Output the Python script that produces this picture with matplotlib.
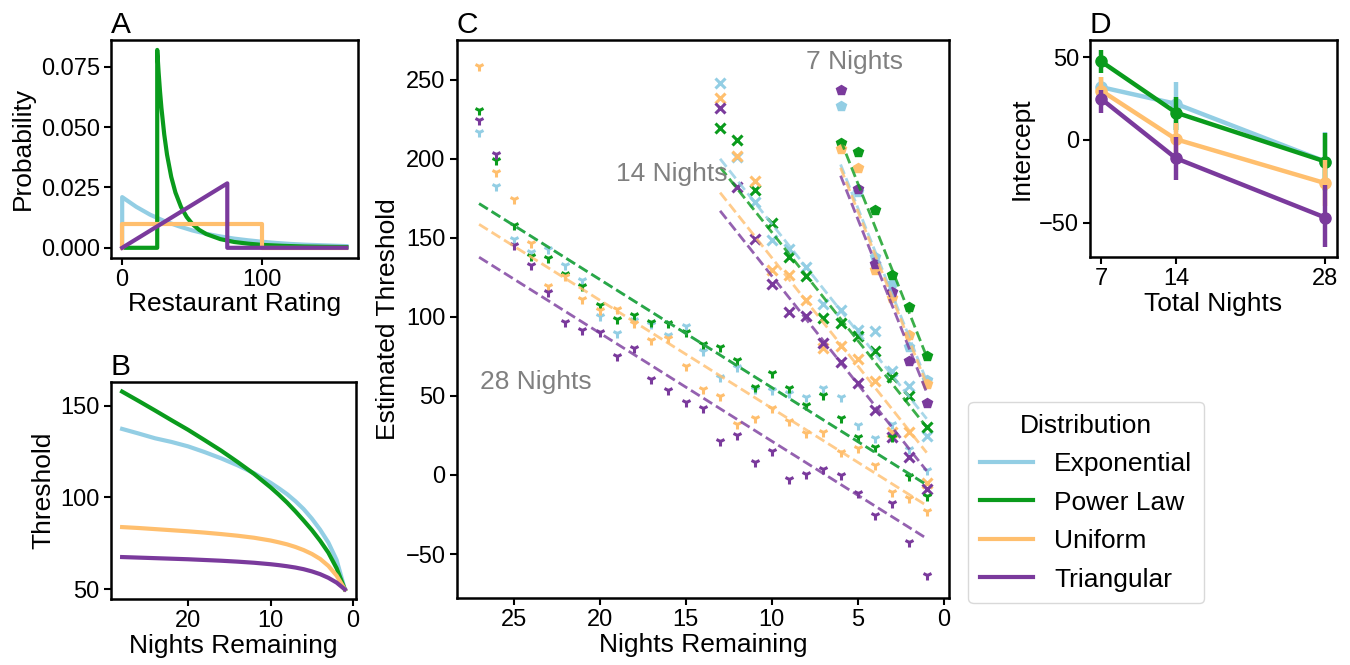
import numpy as np
import matplotlib
matplotlib.use("Agg")
import matplotlib.pyplot as plt
from matplotlib.lines import Line2D

plt.rcParams['font.family'] = ['Liberation Sans', 'DejaVu Sans']
plt.rcParams['axes.linewidth'] = 1.8
plt.rcParams['xtick.major.width'] = 1.5
plt.rcParams['ytick.major.width'] = 1.5
plt.rcParams['xtick.major.size'] = 5
plt.rcParams['ytick.major.size'] = 5

dists = ['Exponential', 'Power Law', 'Uniform', 'Triangular']
colors = ['#93cee4', '#0a9b1c', '#ffbf6e', '#7a3a9c']

# ---- panel A: distributions of restaurant ratings
exp_x = [0, 0, 10, 20, 30, 40, 50, 60, 70, 80, 90, 100, 110, 120, 130, 140, 150, 160]
exp_y = [0, 0.0210, 0.0170, 0.0137, 0.0111, 0.0090, 0.0072, 0.0058, 0.0047, 0.0038,
         0.0031, 0.0025, 0.0020, 0.0016, 0.0013, 0.0011, 0.0009, 0.0007]
pow_x = [0, 25, 25, 26, 27, 28, 30, 32, 35, 38, 42, 46, 50, 55, 60, 70, 80, 90, 100,
         115, 130, 145, 160]
pow_y = [0, 0, 0.082, 0.0727, 0.0648, 0.058, 0.047, 0.0386, 0.0294, 0.0229, 0.0169,
         0.0128, 0.0099, 0.0074, 0.0057, 0.0036, 0.0024, 0.0017, 0.0012, 0.0008,
         0.00054, 0.0004, 0.0003]
uni_x = [0, 0, 100, 100, 160]
uni_y = [0, 0.01, 0.01, 0, 0]
tri_x = [0, 75, 75, 160]
tri_y = [0, 0.0267, 0, 0]
pdf_x = [exp_x, pow_x, uni_x, tri_x]
pdf_y = [exp_y, pow_y, uni_y, tri_y]

# ---- panel B: optimal thresholds
nights_b = [28, 26, 24, 22, 20, 18, 16, 14, 12, 10, 9, 8, 7, 6, 5, 4, 3, 2, 1]
thr_exp = [137.3, 134.8, 132.2, 130.2, 127.8, 124.7, 121.3, 117.5, 113.2, 108.0, 105.0,
           101.8, 98.0, 93.7, 88.5, 82.5, 75.5, 66.0, 50.0]
thr_pow = [157.6, 152.5, 147.3, 142.0, 136.8, 131.2, 125.5, 119.3, 112.8, 105.5, 101.5,
           97.2, 92.5, 87.5, 82.3, 76.5, 70.0, 61.5, 50.0]
thr_uni = [83.9, 83.4, 82.8, 82.2, 81.6, 80.9, 80.1, 79.2, 78.1, 76.6, 75.6, 74.5, 73.1,
           71.4, 69.3, 66.6, 62.8, 57.5, 50.0]
thr_tri = [67.6, 67.3, 67.0, 66.7, 66.4, 66.0, 65.6, 65.1, 64.5, 63.7, 63.2, 62.6, 61.9,
           61.0, 59.8, 58.3, 56.3, 53.7, 50.0]
thr_b = [thr_exp, thr_pow, thr_uni, thr_tri]

# ---- panel C: estimated thresholds
n28 = list(range(27, 0, -1))
est28 = [
    [216.7, 182.4, 149.4, 141.0, 143.1, 133.0, 123.5, 100.6, 89.9, 98.0, 95.3, 88.4, 94.1,
     78.3, 61.7, 68.0, 54.1, 53.7, 52.0, 49.5, 54.7, 49.5, 31.6, 23.6, 32.2, 16.2, 3.2],
    [231.0, 198.9, 157.8, 138.5, 137.2, 127.0, 119.3, 107.3, 98.5, 101.0, 96.8, 96.2, 90.1,
     82.5, 80.6, 72.6, 55.3, 64.2, 54.7, 44.2, 50.5, 35.8, 23.8, 17.9, 24.0, -0.6, -13.3],
    [258.4, 191.5, 174.7, 146.9, 119.3, 125.8, 111.5, 104.4, 105.2, 96.2, 85.2, 86.3, 69.0,
     54.1, 49.9, 32.2, 35.8, 42.1, 34.3, 26.3, 27.4, 14.7, 16.8, 6.3, -10.5, -14.7, -22.5],
    [224.5, 203.0, 145.2, 132.6, 115.7, 97.0, 91.5, 90.5, 75.1, 80.0, 60.6, 53.7, 46.3,
     42.1, 21.7, 25.3, 8.4, 15.4, -2.7, 0.6, 3.6, 0.0, -11.2, -25.3, -17.9, -42.1, -63.1],
]
n14 = list(range(13, 0, -1))
est14 = [
    [247.9, 201.0, 172.6, 148.8, 142.7, 131.5, 108.4, 104.2, 91.5, 91.1, 65.9, 56.2, 24.6],
    [219.3, 211.5, 179.9, 159.5, 137.8, 125.8, 99.0, 96.2, 88.0, 78.5, 62.1, 50.0, 30.1],
    [238.4, 201.4, 185.6, 129.8, 126.7, 110.5, 80.0, 81.6, 73.0, 59.3, 27.4, 27.4, -4.8],
    [232.1, 182.0, 149.4, 121.0, 103.0, 100.4, 83.5, 71.1, 57.9, 41.0, 23.8, 11.6, -9.0],
]
n7 = list(range(6, 0, -1))
est7 = [
    [233.0, 179.0, 138.0, 121.0, 81.0, 60.0],
    [209.8, 204.5, 167.7, 126.7, 106.3, 75.1],
    [206.2, 194.0, 129.4, 112.0, 88.4, 57.4],
    [243.5, 181.0, 133.1, 115.7, 72.2, 45.6],
]

# ---- panel D: intercepts with error bars (index 0 -> 7 nights, 1 -> 14, 2 -> 28)
total_nights = [7, 14, 28]
icpt = [[31.9, 21.8, -13.1], [47.4, 16.5, -13.1], [29.8, 0.4, -26.2], [24.8, -11.1, -47.0]]
icpt_lo = [[26.0, 5.0, -31.0], [40.3, 6.0, -30.0], [22.2, -9.0, -40.0], [16.5, -24.2, -65.0]]
icpt_hi = [[38.0, 35.3, 5.0], [54.4, 26.2, 4.0], [37.9, 10.0, -12.0], [30.2, 2.0, -27.2]]
# shared slope of the fitted lines in C, per horizon (7, 14, 28 nights)
fit_slope = [27.4, 13.7, 6.84]

fig = plt.figure(figsize=(13.5, 6.65), dpi=100)
axA = fig.add_axes([0.0822, 0.6125, 0.1827, 0.3273])
axB = fig.add_axes([0.0822, 0.0988, 0.1815, 0.3272])
axC = fig.add_axes([0.3383, 0.1003, 0.3647, 0.8395])
axD = fig.add_axes([0.8074, 0.6131, 0.1827, 0.3267])

tick_fs = 17
lab_fs = 19
let_fs = 21.5

# A
for i in range(4):
    axA.plot(pdf_x[i], pdf_y[i], color=colors[i], lw=3)
axA.set_xticks([0, 100])
axA.set_yticks([0, 0.025, 0.05, 0.075])
axA.set_xlabel('Restaurant Rating', fontsize=lab_fs, labelpad=1)
axA.set_ylabel('Probability', fontsize=lab_fs, labelpad=4)

# B
for i in range(4):
    axB.plot(nights_b, thr_b[i], color=colors[i], lw=3)
axB.set_xlim(29.35, -0.35)
axB.set_xticks([20, 10, 0])
axB.set_yticks([50, 100, 150])
axB.set_xlabel('Nights Remaining', fontsize=lab_fs, labelpad=1)
axB.set_ylabel('Threshold', fontsize=lab_fs, labelpad=4)

# C
groups = [(n7, est7, 'p', 7, 1), (n14, est14, 'x', 7, 2.2), (n28, est28, '1', 7, 2.2)]
for nn, est, mk, ms, mew in groups:
    for i in range(4):
        axC.plot(nn, est[i], linestyle='none', marker=mk, ms=ms, mew=mew,
                 color=colors[i])
for k, (nn, est, mk, ms, mew) in enumerate(groups):
    xs = np.array(nn)
    for i in range(4):
        axC.plot(xs, icpt[i][k] + fit_slope[k] * xs, '--', color=colors[i], lw=2,
                 alpha=0.8)
axC.set_xlim(28.3, -0.3)
axC.set_xticks([25, 20, 15, 10, 5, 0])
axC.set_yticks([-50, 0, 50, 100, 150, 200, 250])
axC.set_ylim(-78, 275)
axC.set_xlabel('Nights Remaining', fontsize=lab_fs, labelpad=1)
axC.set_ylabel('Estimated Threshold', fontsize=lab_fs, labelpad=4)
axC.text(5.2, 261, '7 Nights', fontsize=19, color='#808080', ha='center', va='center')
axC.text(15.8, 190, '14 Nights', fontsize=19, color='#808080', ha='center', va='center')
axC.text(23.7, 59, '28 Nights', fontsize=19, color='#808080', ha='center', va='center')

# D
for i in range(4):
    axD.plot(total_nights, icpt[i], color=colors[i], lw=3.2, marker='o', ms=8)
    axD.vlines(total_nights, icpt_lo[i], icpt_hi[i], color=colors[i], lw=3.2)
axD.set_xticks(total_nights)
axD.set_yticks([-50, 0, 50])
axD.set_xlabel('Total Nights', fontsize=lab_fs, labelpad=1)
axD.set_ylabel('Intercept', fontsize=lab_fs, labelpad=4)

for ax, letter in zip([axA, axB, axC, axD], 'ABCD'):
    ax.tick_params(labelsize=tick_fs, pad=3)
    ax.set_title(letter, loc='left', fontsize=let_fs, pad=5)

handles = [Line2D([], [], color=c, lw=3) for c in colors]
leg = fig.legend(handles, dists, title='Distribution', loc='upper left',
                 bbox_to_anchor=(0.7173, 0.396), fontsize=19, title_fontsize=19,
                 frameon=True, borderaxespad=0, labelspacing=0.55, handlelength=2.0,
                 handletextpad=0.8, borderpad=0.45)
leg.get_frame().set_edgecolor('#d0d0d0')

fig.savefig('out.png', dpi=100)
